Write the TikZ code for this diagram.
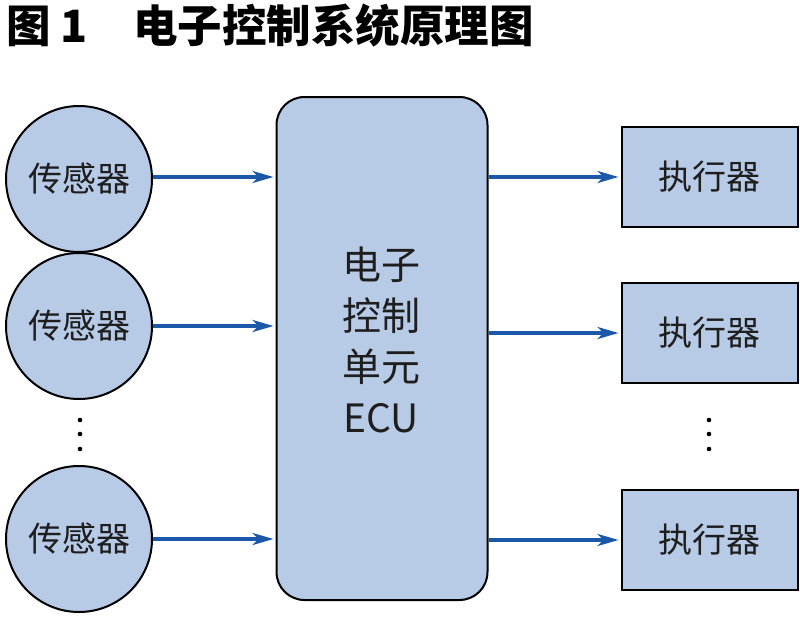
\documentclass[tikz,border=0pt]{standalone}
\usepackage{fontspec}
\newfontfamily\cjk{Noto Sans CJK SC}
\usetikzlibrary{arrows.meta}
\definecolor{boxfill}{RGB}{183,202,230}
\definecolor{arrowblue}{RGB}{28,88,170}
\definecolor{txt}{RGB}{30,30,30}
\tikzset{
  sensor/.style={circle, draw=black, line width=2pt, fill=boxfill, minimum size=146pt, inner sep=0pt, text=txt, font=\cjk\fontsize{34}{40}\selectfont},
  actor/.style={rectangle, draw=black, line width=2pt, fill=boxfill, minimum width=176pt, minimum height=100pt, inner sep=0pt, text=txt, font=\cjk\fontsize{34}{40}\selectfont},
  ecubox/.style={rectangle, rounded corners=28pt, draw=black, line width=2pt, fill=boxfill, minimum width=211pt, minimum height=503pt, inner sep=0pt},
  flow/.style={draw=arrowblue, line width=3.6pt, shorten >=2pt, -{Stealth[length=21pt, width=12pt, inset=6pt]}},
  title/.style={anchor=west, inner sep=0pt, font=\cjk\bfseries\fontsize{44.5}{48}\selectfont},
}
\begin{document}
\begin{tikzpicture}[x=1pt, y=-1pt]
\useasboundingbox[fill=white] (0,0) rectangle (800,618);
\node[title] (t1) at (6,26) {图 1};
\node[title] (t2) at (133,26) {电子控制系统原理图};
\node[sensor] (s1) at (79,179) {传感器};
\node[sensor] (s2) at (79,326) {传感器};
\node[sensor] (s3) at (79,539) {传感器};
\node[ecubox] (ecu) at (382,348.5) {};
\node[align=center, text=txt, font=\cjk\fontsize{39}{51}\selectfont, inner sep=0pt] (ecut) at (381,340) {电子\\控制\\单元\\ECU};
\node[actor] (a1) at (709.5,177) {执行器};
\node[actor] (a2) at (709.5,333) {执行器};
\node[actor] (a3) at (709.5,540) {执行器};
\foreach \y in {420,434,449} {
  \fill[black] (80,\y) circle (2.3pt);
  \fill[black] (709,\y) circle (2.3pt);
}
\draw[flow] (s1.east |- 0,177) -- (ecu.west |- 0,177);
\draw[flow] (s2.east) -- (s2 -| ecu.west);
\draw[flow] (s3.east) -- (s3 -| ecu.west);
\draw[flow] (ecu.east |- a1) -- (a1.west);
\draw[flow] (ecu.east |- a2) -- (a2.west);
\draw[flow] (ecu.east |- a3) -- (a3.west);
\end{tikzpicture}
\end{document}
